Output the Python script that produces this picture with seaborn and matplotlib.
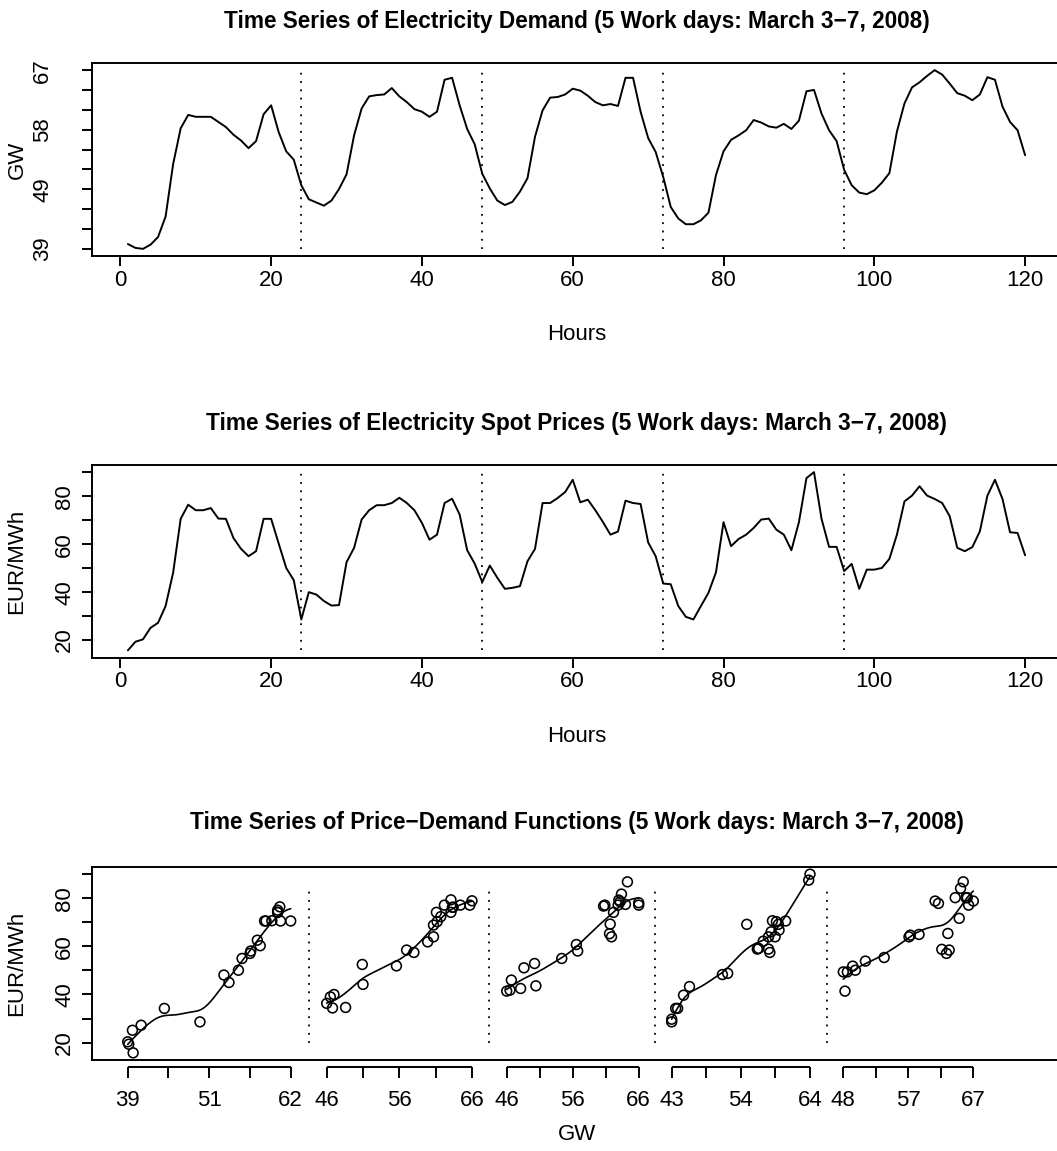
import numpy as np
import pandas as pd
import matplotlib
matplotlib.use("Agg")
import matplotlib.pyplot as plt
import seaborn as sns

# ---------------- data ----------------
hours = list(range(1, 121))

demand_gw = [
    # day 1 (Mar 3)
    39.8, 39.2, 39.05, 39.7, 40.9, 44.1, 52.3, 57.9, 60.0, 59.7, 59.7, 59.7,
    58.9, 58.1, 56.9, 56.0, 54.8, 55.9, 60.1, 61.5, 57.3, 54.3, 53.0, 49.0,
    # day 2 (Mar 4)
    46.8, 46.3, 45.8, 46.6, 48.4, 50.7, 56.8, 61.0, 62.9, 63.1, 63.2, 64.2,
    62.9, 62.0, 60.9, 60.5, 59.7, 60.5, 65.5, 65.8, 61.5, 57.8, 55.4, 50.8,
    # day 3 (Mar 5)
    48.5, 46.6, 45.9, 46.4, 48.0, 50.1, 56.6, 60.7, 62.7, 62.8, 63.2, 64.1,
    63.8, 63.0, 62.0, 61.5, 61.7, 61.4, 65.8, 65.8, 60.5, 56.4, 54.2, 50.3,
    # day 4 (Mar 6)
    45.6, 43.8, 42.9, 42.9, 43.5, 44.7, 50.6, 54.3, 56.1, 56.8, 57.6, 59.2,
    58.8, 58.2, 58.0, 58.6, 57.8, 59.1, 63.7, 63.9, 60.2, 57.6, 55.9, 51.4,
    # day 5 (Mar 7)
    49.0, 47.85, 47.6, 48.2, 49.4, 50.9, 57.4, 61.8, 64.3, 65.1, 66.1, 67.0,
    66.3, 64.9, 63.4, 63.0, 62.3, 63.2, 65.9, 65.5, 61.3, 58.9, 57.6, 53.7,
]

price_eur = [
    # day 1
    15.7, 19.3, 20.3, 25.1, 27.2, 34.2, 48.1, 70.6, 76.5, 74.2, 74.2, 75.1,
    70.7, 70.6, 62.6, 58.1, 55.0, 57.1, 70.6, 70.6, 60.3, 50.1, 45.0, 28.6,
    # day 2
    40.0, 39.0, 36.3, 34.4, 34.6, 52.5, 58.5, 70.3, 74.2, 76.3, 76.3, 77.2,
    79.4, 77.2, 74.2, 68.9, 61.9, 64.0, 77.2, 79.0, 72.4, 57.5, 51.9, 44.2,
    # day 3
    51.1, 46.0, 41.4, 41.8, 42.5, 52.9, 58.1, 77.2, 77.2, 79.3, 81.8, 86.9,
    77.5, 78.6, 74.2, 69.3, 64.0, 65.3, 78.2, 77.2, 76.8, 60.8, 55.0, 43.6,
    # day 4
    43.3, 34.2, 29.7, 28.6, 34.2, 39.7, 48.3, 69.2, 59.2, 62.2, 64.0, 66.8,
    70.3, 70.7, 66.1, 64.0, 57.5, 69.2, 87.6, 90.1, 70.6, 58.9, 58.9, 48.8,
    # day 5
    51.8, 41.4, 49.4, 49.4, 50.1, 53.9, 64.0, 77.9, 80.3, 84.2, 80.3, 78.9,
    77.2, 71.7, 58.5, 57.1, 58.8, 65.4, 80.3, 86.9, 78.9, 65.0, 64.7, 55.4,
]

day_boundaries = [24, 48, 72, 96]
hour_ticks = [0, 20, 40, 60, 80, 100, 120]
demand_tick_labels = ["39", "", "", "49", "", "", "58", "", "", "67"]
price_ticks = [20, 30, 40, 50, 60, 70, 80, 90]
price_tick_labels = ["20", "", "40", "", "60", "", "80", ""]
day_gw_tick_labels = [
    ["39", "", "51", "", "62"],
    ["46", "", "56", "", "66"],
    ["46", "", "56", "", "66"],
    ["43", "", "54", "", "64"],
    ["48", "", "57", "", "67"],
]
sep_dot_range = (20, 85.3)

title1 = "Time Series of Electricity Demand (5 Work days: March 3\u22127, 2008)"
title2 = "Time Series of Electricity Spot Prices (5 Work days: March 3\u22127, 2008)"
title3 = "Time Series of Price\u2212Demand Functions (5 Work days: March 3\u22127, 2008)"

# ---------------- style ----------------
sns.set_theme(style="ticks")
plt.rcParams["font.family"] = ["Liberation Sans", "DejaVu Sans"]
plt.rcParams["axes.linewidth"] = 1.4
for key in ["text.color", "axes.labelcolor", "xtick.color", "ytick.color",
            "axes.edgecolor", "xtick.labelcolor", "ytick.labelcolor"]:
    plt.rcParams[key] = "black"
FS = 16
TFS = 16.3
LW = 1.4

W, H = 1057, 1151
fig = plt.figure(figsize=(W / 100, H / 100), dpi=100)
fig.patch.set_facecolor("white")


def rect(left, top, right, bottom):
    return [left / W, 1 - bottom / H, (right - left) / W, (bottom - top) / H]


ax1 = fig.add_axes(rect(92, 63, 1061, 256))
ax2 = fig.add_axes(rect(92, 465, 1061, 657.5))
ax3 = fig.add_axes(rect(92, 867, 1061, 1060))

df = pd.DataFrame({"Hours": hours, "GW": demand_gw, "EUR/MWh": price_eur})
df["day"] = (df["Hours"] - 1) // 24


def r_lim(vals):
    lo, hi = min(vals), max(vals)
    pad = 0.04 * (hi - lo)
    return lo - pad, hi + pad


def style_axes(ax):
    for s in ax.spines.values():
        s.set_visible(True)
        s.set_linewidth(LW)
        s.set_color("black")
    ax.set_facecolor("white")
    ax.grid(False)
    ax.tick_params(direction="out", length=7, width=LW, color="black",
                   labelsize=FS, labelcolor="black")


dot_style = dict(colors="black", linestyles=[(0, (1, 3.6))], linewidth=1.3)

# ---------------- panel 1: demand ----------------
sns.lineplot(data=df, x="Hours", y="GW", ax=ax1, color="black", linewidth=LW,
             estimator=None)
ax1.set_xlim(r_lim(hours))
ax1.set_ylim(r_lim(demand_gw))
ax1.vlines(day_boundaries, min(demand_gw), max(demand_gw), **dot_style)
style_axes(ax1)
ax1.set_xticks(hour_ticks)
ax1.set_xticklabels([str(t) for t in hour_ticks])
ax1.set_yticks(np.linspace(min(demand_gw), max(demand_gw), len(demand_tick_labels)))
ax1.set_yticklabels(demand_tick_labels, rotation=90, va="center")
ax1.tick_params(axis="x", pad=3)
ax1.tick_params(axis="y", pad=21)
ax1.set_xlabel("Hours", fontsize=FS)
ax1.set_ylabel("GW", fontsize=FS)
ax1.set_title(title1, fontsize=TFS, fontweight="bold", pad=25)

# ---------------- panel 2: prices ----------------
sns.lineplot(data=df, x="Hours", y="EUR/MWh", ax=ax2, color="black",
             linewidth=LW, estimator=None)
ax2.set_xlim(r_lim(hours))
ax2.set_ylim(r_lim(price_eur))
ax2.vlines(day_boundaries, min(price_eur), max(price_eur), **dot_style)
style_axes(ax2)
ax2.set_xticks(hour_ticks)
ax2.set_xticklabels([str(t) for t in hour_ticks])
ax2.set_yticks(price_ticks)
ax2.set_yticklabels(price_tick_labels, rotation=90, va="center")
ax2.tick_params(axis="x", pad=3)
ax2.tick_params(axis="y", pad=5)
ax2.set_xlabel("Hours", fontsize=FS)
ax2.set_ylabel("EUR/MWh", fontsize=FS)
ax2.set_title(title2, fontsize=TFS, fontweight="bold", pad=25)

# ---------------- panel 3: price-demand functions ----------------
# horizontal layout of the five day-panels inside the third plot (pixel units)
seg_start = [127.7, 326.7, 506.7, 671.7, 843.3]
seg_end = [290.7, 472.0, 638.7, 810.0, 973.3]


def local_linear(x, y, grid, bw):
    x = np.asarray(x, float)
    y = np.asarray(y, float)
    out = []
    for g in grid:
        w = np.exp(-0.5 * ((x - g) / bw) ** 2)
        sw = w.sum()
        xm = (w * x).sum() / sw
        ym = (w * y).sum() / sw
        sxx = (w * (x - xm) ** 2).sum()
        b = (w * (x - xm) * (y - ym)).sum() / sxx if sxx > 1e-9 else 0.0
        out.append(ym + b * (g - xm))
    return np.array(out)


scatter_rows = []
curve_rows = []
for d in range(5):
    sub = df[df["day"] == d]
    dmin, dmax = sub["GW"].min(), sub["GW"].max()
    to_pos = lambda v: seg_start[d] + (v - dmin) / (dmax - dmin) * (seg_end[d] - seg_start[d])
    for g, p in zip(sub["GW"], sub["EUR/MWh"]):
        scatter_rows.append({"pos": to_pos(g), "price": p, "day": d})
    grid = np.linspace(dmin, dmax, 200)
    fit = local_linear(sub["GW"], sub["EUR/MWh"], grid, bw=0.11 * (dmax - dmin))
    for g, f in zip(grid, fit):
        curve_rows.append({"pos": to_pos(g), "fit": f, "day": d})

sc = pd.DataFrame(scatter_rows)
cv = pd.DataFrame(curve_rows)

ax3.set_xlim(92, 1061)
ax3.set_ylim(r_lim(price_eur))
sns.scatterplot(data=sc, x="pos", y="price", ax=ax3, marker="o", s=50,
                facecolor="none", edgecolor="black", linewidth=1.15, legend=False)
for d in range(5):
    sns.lineplot(data=cv[cv["day"] == d], x="pos", y="fit", ax=ax3,
                 color="black", linewidth=1.2, estimator=None, sort=False)
seps = [(seg_end[i] + seg_start[i + 1]) / 2 for i in range(4)]
ax3.vlines(seps, sep_dot_range[0], sep_dot_range[1], **dot_style)
style_axes(ax3)
ax3.set_yticks(price_ticks)
ax3.set_yticklabels(price_tick_labels, rotation=90, va="center")
ax3.tick_params(axis="y", pad=5)
ax3.tick_params(axis="x", bottom=False, labelbottom=False)
ax3.set_xlabel("GW", fontsize=FS)
ax3.set_ylabel("EUR/MWh", fontsize=FS)
ax3.set_title(title3, fontsize=TFS, fontweight="bold", pad=27)

off = -6.7 / 193.0
sec = ax3.secondary_xaxis(off)
tick_pos, tick_lab = [], []
for d in range(5):
    tp = np.linspace(seg_start[d], seg_end[d], 5)
    tick_pos += list(tp)
    tick_lab += day_gw_tick_labels[d]
    ax3.plot([seg_start[d], seg_end[d]], [off, off], color="black", linewidth=LW,
             transform=ax3.get_xaxis_transform(), clip_on=False, solid_capstyle="butt")
sec.set_xticks(tick_pos)
sec.set_xticklabels(tick_lab)
sec.spines["bottom"].set_visible(False)
sec.tick_params(direction="out", length=8, width=LW, color="black",
                labelsize=FS, pad=9)

# axis-title placement (R-like margins)
ax1.xaxis.set_label_coords(0.5, (256 - 334) / 193)
ax2.xaxis.set_label_coords(0.5, (657.5 - 737) / 192.5)
ax3.xaxis.set_label_coords(0.5, (1060 - 1135) / 193)
for ax in (ax1, ax2, ax3):
    ax.xaxis.label.set_va("center")
    ax.yaxis.label.set_va("center")
    ax.yaxis.set_label_coords((17 - 92) / 969, 0.5)

fig.savefig("out.png", dpi=100, facecolor="white")
